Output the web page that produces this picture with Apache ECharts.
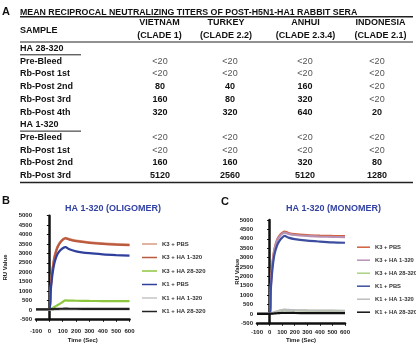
<!DOCTYPE html>
<html>
<head>
<meta charset="utf-8">
<script src="https://cdn.jsdelivr.net/npm/echarts@6/dist/echarts.min.js"></script>
<style>
  html, body { margin: 0; padding: 0; background: #fff; }
  body { width: 416px; height: 347px; position: relative; overflow: hidden; }
  .pane { position: absolute; }
  #table { left: 0; top: 0; width: 416px; height: 195px; }
  #chartB { left: 0; top: 195px; width: 210px; height: 152px; }
  #chartC { left: 205px; top: 195px; width: 211px; height: 152px; }
</style>
</head>
<body>
<div id="table" class="pane"></div>
<div id="chartB" class="pane"></div>
<div id="chartC" class="pane"></div>
<script>
// --- table data ---
const tableTitle = "MEAN RECIPROCAL NEUTRALIZING TITERS OF POST-H5N1-HA1 RABBIT SERA";
const strains = ["VIETNAM", "TURKEY", "ANHUI", "INDONESIA"];
const clades = ["(CLADE 1)", "(CLADE 2.2)", "(CLADE 2.3.4)", "(CLADE 2.1)"];
const groupNames = ["HA 28-320", "HA 1-320"];
const samples28 = ["Pre-Bleed", "Rb-Post 1st", "Rb-Post 2nd", "Rb-Post 3rd", "Rb-Post 4th"];
const titers28 = [
  ["<20", "<20", "<20", "<20"],
  ["<20", "<20", "<20", "<20"],
  ["80", "40", "160", "<20"],
  ["160", "80", "320", "<20"],
  ["320", "320", "640", "20"],
];
const samples1 = ["Pre-Bleed", "Rb-Post 1st", "Rb-Post 2nd", "Rb-Post 3rd"];
const titers1 = [
  ["<20", "<20", "<20", "<20"],
  ["<20", "<20", "<20", "<20"],
  ["160", "160", "320", "80"],
  ["5120", "2560", "5120", "1280"],
];

// --- sensorgram data (time in sec, RU) ---
const seriesNames = ["K3 + PBS", "K3 + HA 1-320", "K3 + HA 28-320", "K1 + PBS", "K1 + HA 1-320", "K1 + HA 28-320"];
const timeSec = [-100, 0, 10, 20, 30, 40, 60, 80, 100, 120, 150, 200, 300, 400, 500, 600];

// B: oligomer
const k3PbsB  = [0, 0, 1150, 1950, 2500, 2900, 3350, 3600, 3750, 3830, 3760, 3680, 3590, 3530, 3490, 3460];
const k3Ha1B  = [0, 0, 1100, 1900, 2450, 2850, 3300, 3560, 3720, 3800, 3730, 3650, 3560, 3500, 3460, 3440];
const k3Ha28B = [0, 0, 40, 85, 125, 170, 250, 330, 420, 500, 495, 485, 475, 470, 465, 460];
const k1PbsB  = [0, 0, 1000, 1700, 2200, 2550, 2950, 3150, 3270, 3330, 3220, 3110, 3010, 2950, 2910, 2880];
const k1Ha1B  = [0, 0, 5, 10, 10, 15, 15, 20, 20, 20, 20, 20, 20, 20, 20, 20];
const k1Ha28B = [30, 30, 35, 40, 45, 50, 55, 60, 60, 65, 60, 60, 55, 55, 55, 55];

// C: monomer
const k3PbsC  = [0, 0, 1500, 2500, 3100, 3500, 3950, 4180, 4310, 4380, 4310, 4250, 4200, 4170, 4150, 4140];
const k3Ha1C  = [0, 0, 1450, 2450, 3050, 3450, 3900, 4130, 4260, 4330, 4260, 4200, 4150, 4120, 4100, 4090];
const k3Ha28C = [0, 0, 20, 40, 60, 80, 120, 160, 190, 210, 200, 190, 175, 165, 160, 155];
const k1PbsC  = [0, 0, 1300, 2200, 2800, 3200, 3650, 3900, 4060, 4150, 4060, 3980, 3900, 3850, 3810, 3790];
const k1Ha1C  = [0, 0, 25, 50, 75, 100, 140, 180, 210, 230, 215, 200, 185, 175, 170, 165];
const k1Ha28C = [0, 0, 10, 15, 20, 25, 35, 45, 50, 60, 55, 50, 45, 45, 40, 40];

const colorsB = ["#d99a80", "#bb5a3e", "#8cc63f", "#2f3f9c", "#c4c4c4", "#222222"];
const colorsC = ["#d2603c", "#b890b4", "#a9d283", "#3d4ea0", "#bdbdbd", "#111111"];

const FONT = '"Liberation Sans", Arial, sans-serif';

// --- table (graphic only) ---
function buildTable() {
  const chart = echarts.init(document.getElementById("table"));
  const g = [];
  const txt = (x, y, text, opts = {}) => g.push({
    type: "text", x, y, silent: true,
    style: {
      text, fill: opts.fill || "#111",
      font: `${opts.weight || "bold"} ${opts.size || 9}px ${FONT}`,
      align: opts.align || "left", verticalAlign: "middle",
    },
  });
  const rule = (x1, y, x2, w) => g.push({
    type: "line", silent: true,
    shape: { x1, y1: y, x2, y2: y },
    style: { stroke: "#222", lineWidth: w },
  });

  txt(2, 12, "A", { size: 11 });
  txt(20, 12.5, tableTitle, { size: 8.8 });
  rule(20, 16.8, 413, 1.5);

  const headX = [159.5, 226, 305.5, 380.5];
  const colX = [160, 230, 305, 377];
  txt(20, 31, "SAMPLE");
  strains.forEach((s, i) => {
    txt(headX[i], 22.5, s, { align: "center" });
    txt(headX[i], 36, clades[i], { align: "center" });
  });
  rule(20, 42, 413, 1);

  const rowH = 12.72;
  let y = 48.5;
  const groups = [[samples28, titers28], [samples1, titers1]];
  groups.forEach(([names, vals], gi) => {
    txt(20, y, groupNames[gi]);
    rule(20, y + 6.3, 81, 1);
    y += rowH;
    names.forEach((n, ri) => {
      txt(20, y, n);
      vals[ri].forEach((v, ci) => {
        const lt = v.startsWith("<");
        txt(colX[ci], y, v, {
          align: "center",
          weight: lt ? "normal" : "bold",
          fill: lt ? "#555" : "#111",
        });
      });
      y += rowH;
    });
  });
  rule(20, 182.5, 413, 1.5);

  chart.setOption({ animation: false, graphic: g });
}

// --- sensorgram panel ---
function buildPanel(id, cfg) {
  const chart = echarts.init(document.getElementById(id));
  const labelStyle = { fontSize: 6, fontWeight: "bold", color: "#222", fontFamily: FONT };
  chart.setOption({
    animation: false,
    graphic: [
      {
        type: "text", x: cfg.letterX, y: cfg.letterY,
        style: { text: cfg.letter, font: `bold 11px ${FONT}`, fill: "#111", verticalAlign: "middle" },
      },
      {
        type: "text", x: cfg.titleX, y: 13.3,
        style: {
          text: cfg.title, font: `bold 9px ${FONT}`, fill: "#3242a2",
          align: "center", verticalAlign: "middle",
        },
      },
    ],
    grid: { ...cfg.grid, outerBoundsMode: "none", containLabel: false },
    legend: {
      orient: "vertical",
      left: cfg.legendLeft,
      top: cfg.legendTop,
      width: 80,
      icon: "rect",
      itemWidth: cfg.legendIcon,
      itemHeight: 1.5,
      itemGap: cfg.legendGap,
      data: seriesNames,
      textStyle: { fontSize: cfg.legendFont, fontWeight: "bold", color: "#333", fontFamily: FONT, lineHeight: 8, overflow: "none" },
    },
    xAxis: {
      type: "value",
      min: -100,
      max: 600,
      interval: 100,
      name: "Time (Sec)",
      nameLocation: "middle",
      nameGap: cfg.xNameGap,
      nameMoveOverlap: false,
      nameTextStyle: labelStyle,
      axisLine: { onZero: false, lineStyle: { color: "#111", width: 2.5 } },
      axisTick: { length: 2.5, lineStyle: { color: "#111", width: 1 } },
      axisLabel: { ...labelStyle, margin: cfg.xLabelMargin, formatter: (v) => String(v) },
      splitLine: { show: false },
    },
    yAxis: {
      type: "value",
      min: -500,
      max: 5000,
      interval: 500,
      name: "RU Value",
      nameLocation: "middle",
      nameRotate: 90,
      nameGap: cfg.yNameGap,
      nameMoveOverlap: false,
      nameTextStyle: labelStyle,
      axisLine: { show: true, lineStyle: { color: "#111", width: 2.5 } },
      axisTick: { show: true, length: 2.5, lineStyle: { color: "#111", width: 1 } },
      axisLabel: { ...labelStyle, margin: 4, formatter: (v) => String(v) },
      splitLine: { show: false },
    },
    series: cfg.data.map((vals, i) => ({
      name: seriesNames[i],
      type: "line",
      showSymbol: false,
      smooth: 0.3,
      color: cfg.colors[i],
      lineStyle: { width: 2.2, color: cfg.colors[i] },
      data: timeSec.map((t, k) => [t, vals[k]]),
    })),
  });
}

buildTable();

buildPanel("chartB", {
  letter: "B", letterX: 2, letterY: 6,
  title: "HA 1-320 (OLIGOMER)", titleX: 113,
  grid: { left: 36, top: 20.7, width: 93.5, height: 103.6 },
  legendLeft: 137, legendTop: 40, legendGap: 5.5, legendIcon: 15, legendFont: 6,
  xNameGap: 18, xLabelMargin: 9, yNameGap: 27.5,
  colors: colorsB,
  data: [k3PbsB, k3Ha1B, k3Ha28B, k1PbsB, k1Ha1B, k1Ha28B],
});

buildPanel("chartC", {
  letter: "C", letterX: 16, letterY: 7,
  title: "HA 1-320 (MONOMER)", titleX: 128.5,
  grid: { left: 52, top: 25, width: 88, height: 103.3 },
  legendLeft: 147, legendTop: 43.2, legendGap: 5, legendIcon: 13, legendFont: 5.8,
  xNameGap: 14, xLabelMargin: 6, yNameGap: 16.5,
  colors: colorsC,
  data: [k3PbsC, k3Ha1C, k3Ha28C, k1PbsC, k1Ha1C, k1Ha28C],
});
</script>
</body>
</html>
